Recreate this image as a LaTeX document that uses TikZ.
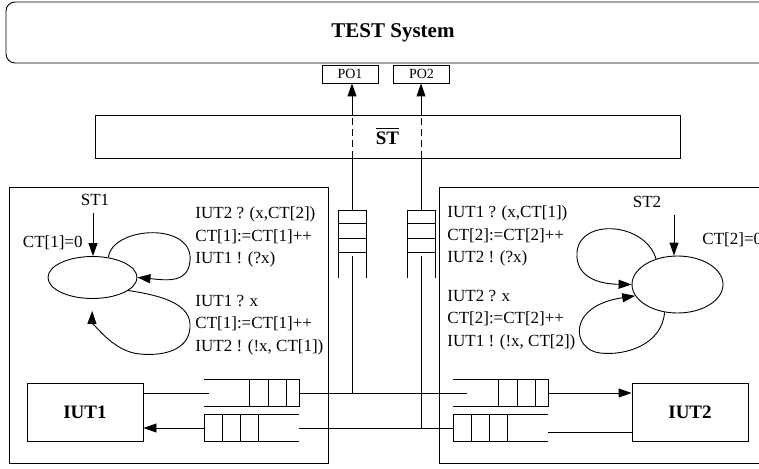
\documentclass[tikz,border=0pt]{standalone}
\usepackage{fontspec}
\setmainfont{Liberation Serif}
\usetikzlibrary{arrows.meta, positioning, shapes.geometric}

\begin{document}
\begin{tikzpicture}[
	x=1pt,
	y=-1pt,
	line width=.9pt,
	font=\fontsize{17}{22.5}\selectfont,
	arr/.style={
		-{Triangle[length=13pt,width=9pt]}
	},
	unit/.style={
		draw,
		minimum width=116pt,
		minimum height=58pt,
		inner sep=0pt,
		font=\fontsize{19}{22}\selectfont\bfseries
	},
	port/.style={
		draw,
		minimum width=56pt,
		minimum height=18pt,
		inner sep=0pt,
		font=\fontsize{14}{16}\selectfont
	},
	state/.style={
		draw,
		ellipse,
		inner sep=0pt
	},
	guard/.style={
		align=left,
		inner sep=0pt,
		anchor=west
	}
	]
	\useasboundingbox (0,0) rectangle (759,468);
	\clip (0,0) rectangle (759,468);

	% Tester on top, with its two observation ports
	\node[draw, rounded corners=9pt, minimum width=774pt, minimum height=61pt, font=\fontsize{21}{24}\selectfont\bfseries] (test) at (393,32.5) {TEST System};
	\node[port] (po1) at (350,74) {PO1};
	\node[port] (po2) at (421.5,74) {PO2};
	\node[draw, minimum width=585pt, minimum height=43pt, font=\fontsize{19}{20}\selectfont\bfseries] (st) at (387.5,136.5) {\setbox0\hbox{ST}\vbox{\hrule width\wd0 height .9pt\kern2.5pt\box0}};

	% Two test sites
	\draw (9,187) rectangle (328,463);
	\draw (439,187) rectangle (790,463);

	% Site 1: state machine
	\node (st1) at (95,200) {ST1};
	\node[anchor=east, inner sep=0pt] (ct1) at (83,243) {CT[1]=0};
	\node[state, minimum width=89pt, minimum height=42pt] (s1) at (92.5,277.5) {};
	\coordinate (in1) at (93,213);
	\draw[arr] (in1) -- (in1 |- s1.north);
	\draw[arr] (s1.52) .. controls (112,228) and (185,222) .. (190,255) .. controls (192,285) and (165,280) .. (s1.east);
	\draw[arr, shorten >=12pt] (s1.-20) .. controls (165,296) and (192,305) .. (190,328) .. controls (188,352) and (160,356) .. (140,354) .. controls (112,352) and (92,320) .. (s1.south);
	\node[guard] (g11) at (195,237) {IUT2 ? (x,CT[2])\\CT[1]:=CT[1]++\\IUT1 ! (?x)};
	\node[guard] (g12) at (195,325) {IUT1 ? x\\CT[1]:=CT[1]++\\IUT2 ! (!x, CT[1])};

	% Site 2: state machine
	\node (st2) at (647,202) {ST2};
	\node[anchor=west, inner sep=0pt] (ct2) at (702,240) {CT[2]=0};
	\node[state, minimum width=91pt, minimum height=57pt] (s2) at (677.5,284.5) {};
	\coordinate (in2) at (674,215);
	\draw[arr] (in2) -- (in2 |- s2.north);
	\draw[arr] (s2.130) .. controls (645,222) and (580,218) .. (577,252) .. controls (575,278) and (600,284) .. (s2.west);
	\draw[arr] (s2.245) .. controls (662,345) and (625,356) .. (600,353) .. controls (572,350) and (566,306) .. (s2.195);
	\node[guard] (g21) at (447,236) {IUT1 ? (x,CT[1])\\CT[2]:=CT[2]++\\IUT2 ! (?x)};
	\node[guard] (g22) at (447,320) {IUT2 ? x\\CT[2]:=CT[2]++\\IUT1 ! (!x, CT[2])};

	% Implementations
	\node[unit] (iut1) at (85,412) {IUT1};
	\node[unit] (iut2) at (690,412.5) {IUT2};

	% Channel queues: upper one towards IUT2, lower one towards IUT1
	\foreach \x in {204,453} {
		\draw (\x,379.5) -- (\x+95,379.5) -- (\x+95,406.5) -- (\x,406.5);
		\foreach \d in {13,31,50}
			\draw (\x+95-\d,379.5) -- (\x+95-\d,406.5);
		\draw (\x+95,414.5) -- (\x,414.5) -- (\x,441.5) -- (\x+95,441.5);
		\foreach \d in {18,36,54}
			\draw (\x+\d,414.5) -- (\x+\d,441.5);
	}
	\coordinate (q1in) at (209,393);
	\coordinate (q1out) at (299,393);
	\coordinate (q3in) at (467,393);
	\coordinate (q3out) at (548,393);
	\coordinate (q4in) at (548,432);
	\coordinate (q4out) at (453,428);
	\coordinate (q2in) at (299,428);
	\coordinate (q2out) at (204,428);

	\draw (iut1.east |- q1in) -- (q1in);
	\draw (q1out) -- (q3in);
	\draw[arr] (q3out) -- (iut2.west |- q3out);
	\draw (iut2.west |- q4in) -- (q4in);
	\draw (q4out) -- (q2in);
	\draw[arr] (q2out) -- (iut1.east |- q2out);

	% Observation queues up to PO1 and PO2
	\foreach \cx/\po in {352/po1,421/po2} {
		\draw (\cx-14,278) -- (\cx-14,210) -- (\cx+14,210) -- (\cx+14,278);
		\foreach \y in {223,238,252}
			\draw (\cx-14,\y) -- (\cx+14,\y);
		\coordinate (top) at (\cx,210);
		\draw (top) -- (top |- st.south);
		\draw[dash pattern=on 7pt off 4pt] (top |- st.south) -- (top |- st.north);
		\draw[arr] (top |- st.north) -- (top |- \po.south);
	}
	\coordinate (v1in) at (352,256);
	\coordinate (v2in) at (421,256);
	\draw (v1in) -- (v1in |- q1out);
	\draw (v2in) -- (v2in |- q4out);
\end{tikzpicture}
\end{document}
